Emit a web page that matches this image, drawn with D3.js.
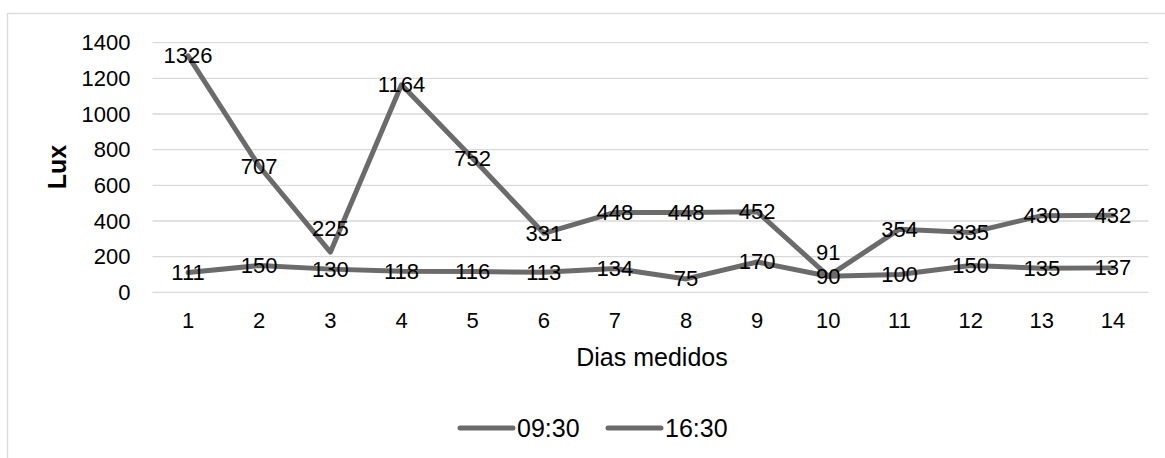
<!DOCTYPE html>
<html>
<head>
<meta charset="utf-8">
<script src="https://cdn.jsdelivr.net/npm/d3@7"></script>
<style>
  html, body { margin: 0; padding: 0; background: #fff; }
  svg { display: block; font-family: "Liberation Sans", Arial, sans-serif; }
</style>
</head>
<body>
<svg id="chart" width="1165" height="458"></svg>
<script>
// Days measured and lux readings at two times of day
const days = ["1", "2", "3", "4", "5", "6", "7", "8", "9", "10", "11", "12", "13", "14"];
const lux0930 = [1326, 707, 225, 1164, 752, 331, 448, 448, 452, 91, 354, 335, 430, 432];
const lux1630 = [111, 150, 130, 118, 116, 113, 134, 75, 170, 90, 100, 150, 135, 137];
const seriesNames = ["09:30", "16:30"];
const yTicks = [0, 200, 400, 600, 800, 1000, 1200, 1400];

const series = [
  { name: seriesNames[0], values: lux0930 },
  { name: seriesNames[1], values: lux1630 }
];

const lineColor = "#6b6b6b";
const gridColor = "#d9d9d9";
const svg = d3.select("#chart");

// outer chart frame
svg.append("rect")
  .attr("x", 7.5).attr("y", 13.5)
  .attr("width", 1170).attr("height", 460)
  .attr("fill", "none").attr("stroke", gridColor).attr("stroke-width", 1.3);

const plot = { left: 152.5, right: 1148.5, top: 42.7, bottom: 292.3 };

const x = d3.scaleBand().domain(days).range([plot.left, plot.right]).padding(0);
const y = d3.scaleLinear().domain([0, 1400]).range([plot.bottom, plot.top]);
const cx = d => x(d) + x.bandwidth() / 2;

// horizontal gridlines
svg.append("g")
  .selectAll("line")
  .data(yTicks)
  .join("line")
  .attr("x1", plot.left).attr("x2", plot.right)
  .attr("y1", d => y(d)).attr("y2", d => y(d))
  .attr("stroke", gridColor).attr("stroke-width", 1.3);

// y axis labels
const yAxis = svg.append("g")
  .attr("transform", `translate(${plot.left},0)`)
  .call(d3.axisLeft(y).tickValues(yTicks).tickFormat(d3.format("d")).tickSize(0).tickPadding(22));
yAxis.select(".domain").remove();
yAxis.selectAll("text")
  .attr("font-size", 22).attr("fill", "#000")
  .attr("font-family", "Liberation Sans, Arial, sans-serif");

// x axis labels
const xAxis = svg.append("g")
  .attr("transform", `translate(0,${plot.bottom})`)
  .call(d3.axisBottom(x).tickSize(0).tickPadding(20));
xAxis.select(".domain").remove();
xAxis.selectAll("text")
  .attr("font-size", 22).attr("fill", "#000")
  .attr("font-family", "Liberation Sans, Arial, sans-serif");

// axis titles
svg.append("text")
  .attr("x", 652).attr("y", 357)
  .attr("text-anchor", "middle").attr("dominant-baseline", "central")
  .attr("font-size", 25).attr("fill", "#000")
  .text("Dias medidos");

svg.append("text")
  .attr("transform", "translate(57,167) rotate(-90)")
  .attr("text-anchor", "middle").attr("dominant-baseline", "central")
  .attr("font-size", 25).attr("font-weight", "bold").attr("fill", "#000")
  .text("Lux");

// series lines
const line = d3.line()
  .x((d, i) => cx(days[i]))
  .y(d => y(d));

svg.append("g")
  .selectAll("path")
  .data(series)
  .join("path")
  .attr("d", s => line(s.values))
  .attr("fill", "none")
  .attr("stroke", lineColor)
  .attr("stroke-width", 5)
  .attr("stroke-linejoin", "round")
  .attr("stroke-linecap", "round");

// data labels, centred on each point; a morning label that would collide
// with the afternoon label of the same day is lifted above its point
const labels = [];
series.forEach((s, si) => {
  s.values.forEach((v, i) => {
    let ly = y(v);
    if (si === 0) {
      const other = y(series[1].values[i]);
      if (Math.abs(other - ly) < 20) ly -= 24;
    }
    labels.push({ x: cx(days[i]), y: ly, text: String(v) });
  });
});

svg.append("g")
  .selectAll("text")
  .data(labels)
  .join("text")
  .attr("x", d => d.x)
  .attr("y", d => d.y)
  .attr("text-anchor", "middle")
  .attr("dominant-baseline", "central")
  .attr("font-size", 22)
  .attr("fill", "#000")
  .text(d => d.text);

// legend
const legendItems = [
  { name: seriesNames[0], x: 460 },
  { name: seriesNames[1], x: 608 }
];
const lg = svg.append("g").selectAll("g").data(legendItems).join("g")
  .attr("transform", d => `translate(${d.x},428)`);
lg.append("line")
  .attr("x1", 0).attr("x2", 53).attr("y1", 0).attr("y2", 0)
  .attr("stroke", lineColor).attr("stroke-width", 5).attr("stroke-linecap", "round");
lg.append("text")
  .attr("x", 57).attr("y", 0)
  .attr("dominant-baseline", "central")
  .attr("font-size", 25).attr("fill", "#000")
  .text(d => d.name);
</script>
</body>
</html>
